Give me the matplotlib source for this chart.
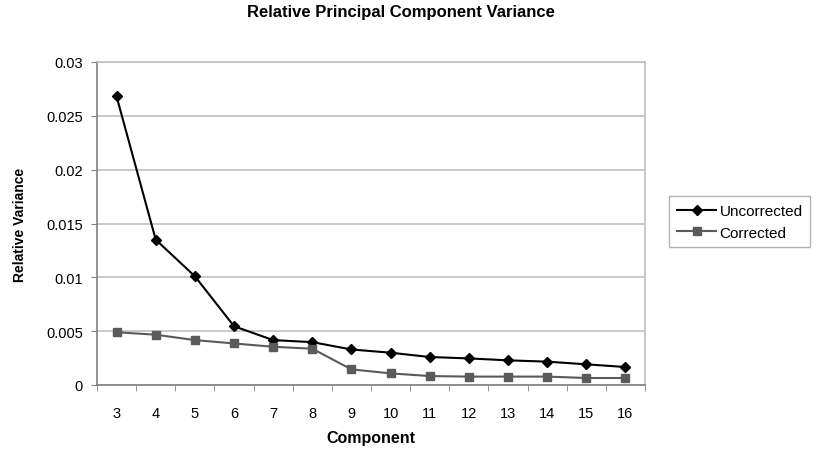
"""Varianza relativa de componentes principales, con y sin corrección."""

import matplotlib
import matplotlib.pyplot as plt
import numpy as np

matplotlib.use("Agg")
plt.rcParams["font.family"] = ["Liberation Sans", "DejaVu Sans"]

componentes = [3, 4, 5, 6, 7, 8, 9, 10, 11, 12, 13, 14, 15, 16]
sin_corregir = [0.0268, 0.0135, 0.0101, 0.00546, 0.00417, 0.00398, 0.0033,
                0.0030, 0.0026, 0.00247, 0.00229, 0.00217, 0.00192, 0.00167]
corregido = [0.0049, 0.00467, 0.00417, 0.00386, 0.00355, 0.00337, 0.00145,
             0.00108, 0.00083, 0.00078, 0.00078, 0.00078, 0.00065, 0.00065]
ticks_y = [0, 0.005, 0.01, 0.015, 0.02, 0.025, 0.03]
etiquetas_y = ["0", "0.005", "0.01", "0.015", "0.02", "0.025", "0.03"]

fig = plt.figure(figsize=(8.29, 4.52), dpi=100)
ax = fig.add_axes([97 / 829, 1 - 386 / 452, 548 / 829, 323 / 452])

x = np.arange(len(componentes))
ax.plot(x, sin_corregir, color="black", linewidth=1.5, marker="D",
        markersize=5, label="Uncorrected", zorder=3)
ax.plot(x, corregido, color="#5a5a5a", linewidth=1.5, marker="s",
        markersize=6, label="Corrected", zorder=3)

ax.set_xlim(-0.5, len(componentes) - 0.5)
ax.set_ylim(0, 0.03)
ax.set_yticks(ticks_y)
ax.set_yticklabels(etiquetas_y, fontsize=10.5)
ax.set_xticks(x)
ax.set_xticklabels([str(c) for c in componentes], fontsize=10.5)
ax.set_xticks(np.arange(-0.5, len(componentes)), minor=True)
ax.tick_params(axis="x", which="major", length=0, pad=15)
ax.tick_params(axis="x", which="minor", length=4, color="#808080")
ax.tick_params(axis="y", length=4, color="#808080", pad=6)

ax.grid(axis="y", color="#c0c0c0", linewidth=1.2)
ax.set_axisbelow(True)
for lado in ["top", "right"]:
    ax.spines[lado].set_color("#c0c0c0")
    ax.spines[lado].set_linewidth(1.2)
for lado in ["left", "bottom"]:
    ax.spines[lado].set_color("#808080")
    ax.spines[lado].set_linewidth(1.2)

ax.set_xlabel("Component", fontsize=11.5, fontweight="bold", labelpad=7)
ax.set_ylabel("Relative Variance", fontsize=10, fontweight="bold", labelpad=14)
fig.text(401 / 829, 1 - 12 / 452, "Relative Principal Component Variance",
         fontsize=12, fontweight="bold", ha="center", va="center")

leg = ax.legend(loc="center left", bbox_to_anchor=(1.03, 0.505), fontsize=11,
                frameon=True, fancybox=False, edgecolor="#a0a0a0",
                handlelength=2.6, handletextpad=0.2, borderpad=0.5,
                labelspacing=0.5)
leg.get_frame().set_linewidth(1.0)

fig.savefig("out.png", dpi=100)
plt.close(fig)
